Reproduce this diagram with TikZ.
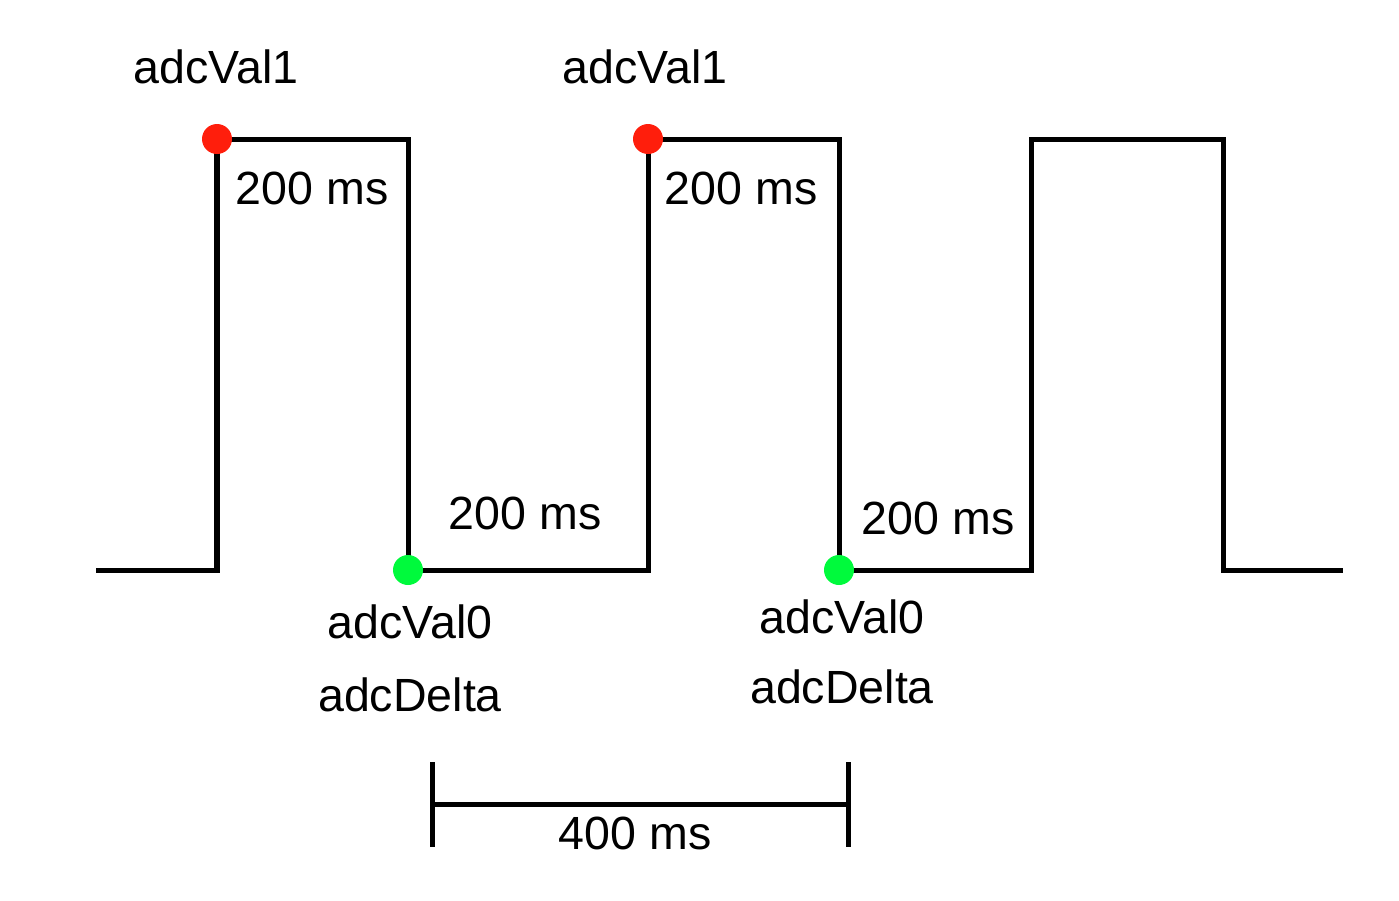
\documentclass[tikz,border=0pt]{standalone}
\usepackage{fontspec}
\setmainfont{Liberation Sans}
\definecolor{dotRedFill}{RGB}{255,30,12}
\definecolor{dotGreenFill}{RGB}{0,250,60}
\tikzset{
  signalLine/.style = {line width=2.85pt, line join=miter, line cap=butt},
  %text labels
  labelText/.style = {font=\fontsize{26.5}{31}\selectfont, inner sep=0pt, anchor=base},
  %sample points
  dotRed/.style = {circle, fill=dotRedFill, inner sep=0pt, minimum size=0.6cm},
  dotGreen/.style = {circle, fill=dotGreenFill, inner sep=0pt, minimum size=0.6cm}
}
\begin{document}
\begin{tikzpicture}[x=0.02cm,y=-0.02cm]
\useasboundingbox (0,0) rectangle (1399,900);
% square wave corners
\coordinate (s0) at (96,570);
\coordinate (r1) at (217,570);  \coordinate (h1) at (217,139);
\coordinate (f1) at (408,139);  \coordinate (l1) at (408,570);
\coordinate (r2) at (648,570);  \coordinate (h2) at (648,139);
\coordinate (f2) at (839,139);  \coordinate (l2) at (839,570);
\coordinate (r3) at (1031,570); \coordinate (h3) at (1031,139);
\coordinate (f3) at (1223,139); \coordinate (l3) at (1223,570);
\coordinate (s1) at (1343,570);
\draw [signalLine] (s0) -- (r1) -- (h1) -- (f1) -- (l1) -- (r2) -- (h2)
  -- (f2) -- (l2) -- (r3) -- (h3) -- (f3) -- (l3) -- (s1);
% sample points
\node [dotRed] (val1a) at (h1) {};
\node [dotRed] (val1b) at (h2) {};
\node [dotGreen] (val0a) at (l1) {};
\node [dotGreen] (val0b) at (l2) {};
% labels
\node [labelText] (adcVal1a) at (216,83) {adcVal1};
\node [labelText] (adcVal1b) at (645,83) {adcVal1};
\node [labelText] (highA) at (312,204) {200 ms};
\node [labelText] (highB) at (741,204) {200 ms};
\node [labelText] (lowA) at (525,529) {200 ms};
\node [labelText] (lowB) at (938,534) {200 ms};
\node [labelText] (adcVal0a) at (410,638) {adcVal0};
\node [labelText] (adcVal0b) at (842,633) {adcVal0};
\node [labelText] (deltaA) at (410,711) {adcDelta};
\node [labelText] (deltaB) at (842,703) {adcDelta};
% period bar
\coordinate (barLtop) at (432,762); \coordinate (barLbot) at (432,847);
\coordinate (barRtop) at (848,762); \coordinate (barRbot) at (848,847);
\coordinate (barL) at (432,804);    \coordinate (barR) at (848,804);
\draw [signalLine] (barLtop) -- (barLbot);
\draw [signalLine] (barRtop) -- (barRbot);
\draw [signalLine] (barL) -- (barR);
\node [labelText] (period) at (635,849) {400 ms};
\end{tikzpicture}
\end{document}
